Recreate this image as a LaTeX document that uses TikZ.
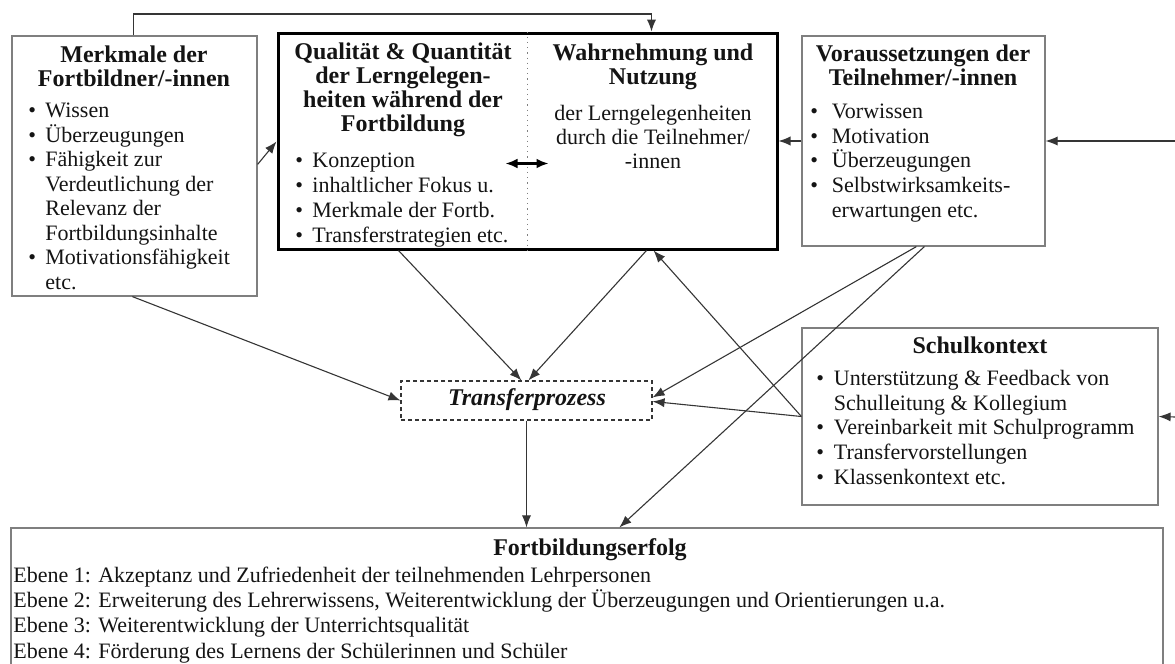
\documentclass[tikz,border=0pt]{standalone}
\usepackage{fontspec}
\setmainfont{Liberation Serif}
\usetikzlibrary{arrows.meta,fit,calc}
\definecolor{boxgray}{HTML}{7F7F7F}
\definecolor{linegray}{HTML}{353535}
\definecolor{inkblack}{HTML}{141414}
% bullet with a fixed hanging width, and the matching indent for wrapped lines
\newcommand{\itembul}[1][8.5pt]{\makebox[#1][l]{\textbullet}}
\newcommand{\itemcont}[1][8.5pt]{\hspace*{#1}}
\begin{document}
\begin{tikzpicture}[x=0.5pt,y=-0.5pt,
  font=\fontsize{11}{12.2}\selectfont,
  every node/.style={text=inkblack},
  frame/.style={draw=boxgray, line width=0.6pt, inner sep=0pt},
  heading/.style={font=\fontsize{12}{11.85}\selectfont\bfseries, align=center, anchor=base, inner sep=0pt},
  listtext/.style={align=left, anchor=base west, inner sep=0pt},
  plaintext/.style={align=center, anchor=base, inner sep=0pt},
  conn/.style={draw=linegray, line width=0.55pt, -{Latex[length=6pt,width=4.6pt]}},
]
\useasboundingbox (0,0) rectangle (1175,664);

% ---------- boxes ----------
\node[frame, fit={(12,36) (257,296)}] (merk) {};
\node[draw=black, line width=1.5pt, inner sep=0pt, fit={(278,33) (777,249)}] (lern) {};
\node[frame, fit={(802,36) (1045,246)}] (vor) {};
\node[frame, fit={(802,328) (1158,505)}] (schul) {};
\node[draw=linegray, line width=0.55pt, dash pattern=on 2pt off 1.5pt, inner sep=0pt, fit={(401,381) (652,420)}] (trans) {};
\node[frame, fit={(11,528) (1163,690)}] (erfolg) {};

% divider inside the learning-opportunity box
\coordinate (divT) at ($(lern.north west)+(251,0)$);
\coordinate (divB) at ($(lern.south west)+(251,0)$);
\draw[boxgray, dotted, line width=0.6pt] (divT) -- (divB);

% ---------- texts (base anchor = baseline of the last line) ----------
\node[heading] (merkT) at (134,86) {Merkmale der\\Fortbildner/-innen};
\node[listtext, font=\fontsize{11}{12.25}\selectfont] (merkL) at (28,289) {%
  \itembul Wissen\\
  \itembul Überzeugungen\\
  \itembul Fähigkeit zur\\
  \itemcont Verdeutlichung der\\
  \itemcont Relevanz der\\
  \itemcont Fortbildungsinhalte\\
  \itembul Motivationsfähigkeit\\
  \itemcont etc.};

\node[heading] (lernT) at (403,131) {Qualität \& Quantität\\der Lerngelegen-\\heiten während der\\Fortbildung};
\node[listtext, font=\fontsize{11}{12.35}\selectfont] (lernL) at (295,242) {%
  \itembul Konzeption\\
  \itembul inhaltlicher Fokus u.\\
  \itembul Merkmale der Fortb.\\
  \itembul Transferstrategien etc.};

\node[heading] (nutzT) at (653,84) {Wahrnehmung und\\Nutzung};
\node[plaintext, font=\fontsize{11}{12.1}\selectfont] (nutzL) at (653,169) {der Lerngelegenheiten\\durch die Teilnehmer/\\-innen};

\node[heading] (vorT) at (923,85) {Voraussetzungen der\\Teilnehmer/-innen};
\node[listtext, font=\fontsize{11}{12.3}\selectfont] (vorL) at (810,217) {%
  \itembul[8pt] Vorwissen\\
  \itembul[8pt] Motivation\\
  \itembul[8pt] Überzeugungen\\
  \itembul[8pt] Selbstwirksamkeits-\\
  \itemcont[8pt] erwartungen etc.};

\node[heading] (schulT) at (980,353) {Schulkontext};
\node[listtext, font=\fontsize{11}{12.3}\selectfont] (schulL) at (816,484) {%
  \itembul[6pt] Unterstützung \& Feedback von\\
  \itemcont[6pt] Schulleitung \& Kollegium\\
  \itembul[6pt] Vereinbarkeit mit Schulprogramm\\
  \itembul[6pt] Transfervorstellungen\\
  \itembul[6pt] Klassenkontext etc.};

\node[plaintext, font=\fontsize{12}{12}\selectfont\bfseries\itshape] (transT) at (527,405) {Transferprozess};

\node[heading] (erfolgT) at (590,555) {Fortbildungserfolg};
\node[listtext, font=\fontsize{11}{12.65}\selectfont] (erfolgL) at (13,658) {%
  Ebene 1: Akzeptanz und Zufriedenheit der teilnehmenden Lehrpersonen\\
  Ebene 2: Erweiterung des Lehrerwissens, Weiterentwicklung der Überzeugungen und Orientierungen u.a.\\
  Ebene 3: Weiterentwicklung der Unterrichtsqualität\\
  Ebene 4: Förderung des Lernens der Schülerinnen und Schüler};

% ---------- connector end points ----------
\coordinate (top) at (0,14);
\coordinate (loopA) at ($(merk.north west)+(122,0)$);
\coordinate (loopB) at ($(lern.north west)+(375,0)$);
\coordinate (m1) at ($(merk.north east)+(0,129)$);
\coordinate (l1) at ($(lern.north west)+(0,110)$);
\coordinate (m2) at ($(merk.south west)+(121,0)$);
\coordinate (l2) at ($(lern.south west)+(122,0)$);
\coordinate (l3) at ($(lern.south west)+(370,0)$);
\coordinate (l4) at ($(lern.south west)+(377,0)$);
\coordinate (t1) at ($(trans.north west)+(121,0)$);
\coordinate (t2) at ($(trans.north west)+(128,0)$);
\coordinate (t3) at ($(trans.north east)+(0,21)$);
\coordinate (t4) at ($(trans.north east)+(0,17)$);
\coordinate (v1) at ($(vor.south west)+(115,0)$);
\coordinate (v2) at ($(vor.south west)+(123,0)$);
\coordinate (e1) at ($(erfolg.north west)+(609,0)$);
\coordinate (inR1) at (1175,141);
\coordinate (inR2) at (1175,417);
\coordinate (da1) at ($(lern.north west)+(229,132)$);
\coordinate (da2) at ($(lern.north west)+(272,132)$);

% ---------- connectors ----------
\draw[conn] (loopA) -- (loopA |- top) -| (loopB);
\draw[conn] (m1) -- (l1);
\draw[conn] (vor.west) -- (lern.east);
\draw[conn] (inR1) -- (vor.east);
\draw[conn] (inR2) -- (schul.east);
\draw[conn] (m2) -- (trans.west);
\draw[conn] (l2) -- (t1);
\draw[conn] (l3) -- (t2);
\draw[conn] (schul.west) -- (l4);
\draw[conn] (schul.west) -- (t3);
\draw[conn] (v1) -- (t4);
\draw[conn] (v2) -- (e1);
\draw[conn] (trans.south) -- (trans.south |- erfolg.north);
\draw[black, line width=1.4pt, {Latex[length=6pt,width=5pt]}-{Latex[length=6pt,width=5pt]}] (da1) -- (da2);
\end{tikzpicture}
\end{document}
